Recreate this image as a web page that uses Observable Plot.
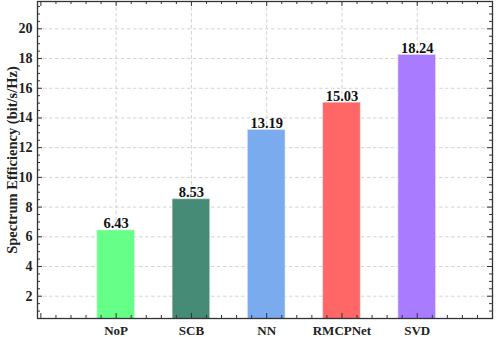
<!DOCTYPE html>
<html>
<head>
<meta charset="utf-8">
<script src="https://cdn.jsdelivr.net/npm/d3@7"></script>
<script src="https://cdn.jsdelivr.net/npm/@observablehq/plot@0.6"></script>
<style>
  html, body { margin: 0; padding: 0; background: #fff; }
  svg { overflow: visible; }
</style>
</head>
<body>
<div id="chart"></div>
<script>
const methods = ["NoP", "SCB", "NN", "RMCPNet", "SVD"];
const efficiency = [6.43, 8.53, 13.19, 15.03, 18.24];
const barColors = ["#66FF88", "#458B76", "#7AABEF", "#FF6666", "#A87BFF"];
const yMajorTicks = [2, 4, 6, 8, 10, 12, 14, 16, 18, 20];
const yLabel = "Spectrum Efficiency (bit/s/Hz)";

const rows = methods.map((m, i) => ({ method: m, pos: i + 1, value: efficiency[i], color: barColors[i] }));
const positions = rows.map(d => d.pos);
const xMajor = d3.range(0, 7);
const xMinor = d3.range(0, 31).map(i => i * 0.2).filter(v => Math.abs(v - Math.round(v)) > 1e-6);
const yMinor = d3.range(2, 44).map(i => i * 0.5).filter(v => v % 2 !== 0);

const W = 498, H = 337;
const mL = 37, mR = 6, mT = 1, mB = 19;
const innerW = W - mL - mR, innerH = H - mT - mB;
const font = "'Liberation Serif', 'Times New Roman', serif";
const axisColor = "#333333";
const gridStyle = { stroke: "#d2d2d2", strokeWidth: 1, strokeDasharray: "3.5,2.5" };

const chart = Plot.plot({
  width: W,
  height: H,
  marginLeft: mL,
  marginRight: mR,
  marginTop: mT,
  marginBottom: mB,
  style: { fontFamily: font, fontWeight: "bold", background: "#fff", color: "#222", overflow: "visible" },
  x: { type: "linear", domain: [-0.045, 6], axis: null },
  y: { domain: [0.5, 21.84], axis: null },
  marks: [
    Plot.ruleY(yMajorTicks, { y: d => d, ...gridStyle }),
    Plot.ruleX(positions, { x: d => d, ...gridStyle }),
    Plot.rect(rows, {
      x1: d => d.pos - 0.25, x2: d => d.pos + 0.25,
      y1: 0, y2: "value",
      fill: "color", stroke: "#e8e8e8", strokeOpacity: 0.6, strokeWidth: 1, clip: true
    }),
    Plot.text(rows, {
      x: "pos", y: "value", text: d => d.value.toFixed(2), dy: -2,
      lineAnchor: "bottom", fontSize: 14.5, fontWeight: "bold", fill: "#111"
    }),
    // y tick labels
    Plot.text(yMajorTicks, {
      y: d => d, frameAnchor: "left", dx: -5, textAnchor: "end",
      text: d => String(d), fontSize: 14, fontWeight: "bold", fill: "#222"
    }),
    // x tick labels
    Plot.text(rows, {
      x: "pos", frameAnchor: "bottom", dy: 7, lineAnchor: "top",
      text: "method", fontSize: 13, fontWeight: "bold", fill: "#222"
    }),
    // y axis title
    Plot.text([yLabel], {
      frameAnchor: "left", dx: -25, rotate: -90, text: d => d, textAnchor: "middle",
      fontSize: 14.5, fontWeight: "bold", fill: "#222"
    }),
    // inward ticks: left / right
    Plot.tickY(yMajorTicks, { y: d => d, insetRight: innerW - 5, stroke: axisColor }),
    Plot.tickY(yMajorTicks, { y: d => d, insetLeft: innerW - 5, stroke: axisColor }),
    Plot.tickY(yMinor, { y: d => d, insetRight: innerW - 3, stroke: axisColor }),
    Plot.tickY(yMinor, { y: d => d, insetLeft: innerW - 3, stroke: axisColor }),
    // inward ticks: top / bottom
    Plot.tickX(xMajor, { x: d => d, insetTop: innerH - 5, stroke: axisColor }),
    Plot.tickX(xMajor, { x: d => d, insetBottom: innerH - 5, stroke: axisColor }),
    Plot.tickX(xMinor, { x: d => d, insetTop: innerH - 3, stroke: axisColor }),
    Plot.tickX(xMinor, { x: d => d, insetBottom: innerH - 3, stroke: axisColor }),
    Plot.frame({ stroke: axisColor, strokeWidth: 1.3 })
  ]
});
document.getElementById("chart").appendChild(chart);
</script>
</body>
</html>
